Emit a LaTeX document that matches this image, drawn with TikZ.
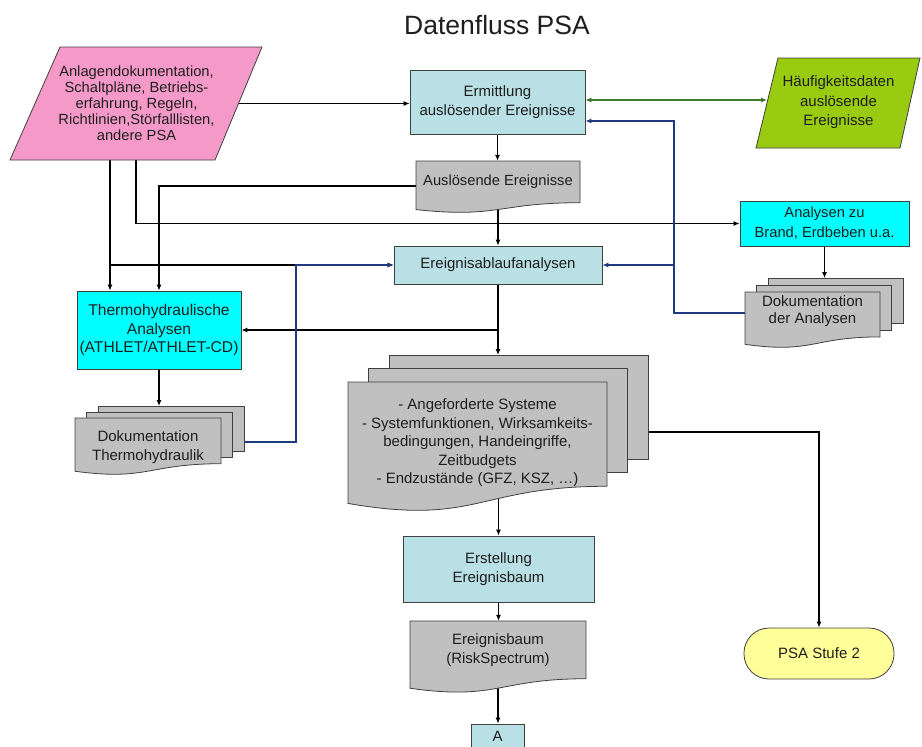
\documentclass[tikz,border=0pt]{standalone}
\usepackage{fontspec}
\setmainfont{Liberation Sans}
\usetikzlibrary{arrows.meta,calc}
\definecolor{pinkf}{HTML}{F59AC8}
\definecolor{lblue}{HTML}{B9E0E4}
\definecolor{cyanf}{HTML}{00FFFF}
\definecolor{grayf}{HTML}{C0C0C0}
\definecolor{greenf}{HTML}{99CC11}
\definecolor{yellowf}{HTML}{FFFF99}
\definecolor{arrgreen}{HTML}{3B7A2A}
\definecolor{navyl}{HTML}{1F3A7F}
\definecolor{edgec}{HTML}{404040}
\definecolor{txt}{HTML}{1E1E1E}
\pgfdeclarelayer{bg}
\pgfsetlayers{bg,main}
\tikzset{
  lbl/.style={align=center, text=txt, inner sep=0pt},
  bx/.style={draw=edgec, line width=0.8pt, align=center, text=txt, inner sep=0pt},
  docst/.style={draw=edgec, line width=0.8pt, fill=grayf},
  arr/.style={draw=black, line width=1.1pt, -{Latex[length=6pt,width=5pt]}},
  barr/.style={draw=navyl, line width=1.1pt, -{Latex[length=6pt,width=5pt]}},
  garr/.style={draw=arrgreen, line width=1.1pt, {Latex[length=6pt,width=5pt]}-{Latex[length=6pt,width=5pt]}},
  fa/.style={font=\fontsize{14.7}{16}\selectfont},
  fb/.style={font=\fontsize{15}{19}\selectfont},
  fc/.style={font=\fontsize{15}{18.5}\selectfont},
}
% document shape: x1, y1, width, height
\newcommand{\mydocshape}[4]{%
  \pgfmathsetmacro{\dsXa}{#1}\pgfmathsetmacro{\dsYa}{#2}%
  \pgfmathsetmacro{\dsXb}{#1+#3}\pgfmathsetmacro{\dsXm}{#1+0.5*#3}%
  \pgfmathsetmacro{\dsYr}{#2+0.802*#4}\pgfmathsetmacro{\dsYl}{#2+0.934*#4}%
  \pgfmathsetmacro{\dsYc}{#2+1.107*#4}%
  \draw[docst] (\dsXa,\dsYa) -- (\dsXb,\dsYa) -- (\dsXb,\dsYr)
    .. controls (\dsXm,\dsYr) and (\dsXm,\dsYc) .. (\dsXa,\dsYl) -- cycle;}
% multi document: x1, y1, width, height, dx, dy
\newcommand{\mymultidoc}[6]{%
  \pgfmathsetmacro{\mdH}{0.802*#4}%
  \draw[docst] ({#1+2*#5},{#2-2*#6}) rectangle ++(#3,\mdH);
  \draw[docst] ({#1+#5},{#2-#6}) rectangle ++(#3,\mdH);
  \mydocshape{#1}{#2}{#3}{#4}}
\begin{document}
\begin{tikzpicture}[x=1pt,y=-1pt]
\useasboundingbox (0,0) rectangle (922,747);

% title
\node[lbl, font=\fontsize{26.5}{30}\selectfont] (title) at (497,25) {Datenfluss PSA};

% parallelograms
\draw[draw=edgec, line width=0.8pt, fill=pinkf] (60,47) -- (262,47) -- (215,160) -- (10,160) -- cycle;
\node[lbl, fa] (pink) at (136.5,103.5) {Anlagendokumentation,\\Schaltpläne, Betriebs-\\erfahrung, Regeln,\\Richtlinien,Störfalllisten,\\andere PSA};
\draw[draw=edgec, line width=0.8pt, fill=greenf] (778,58) -- (920,58) -- (900,148) -- (756,148) -- cycle;
\node[lbl, font=\fontsize{15}{19.5}\selectfont] (haeuf) at (838.5,102.5) {Häufigkeitsdaten\\auslösende\\Ereignisse};

% boxes
\node[bx, fb, fill=lblue, minimum width=175, minimum height=64] (erm) at (497.5,102) {Ermittlung\\auslösender Ereignisse};
\node[bx, fb, fill=lblue, minimum width=208, minimum height=38] (ereig) at (498,265) {Ereignisablaufanalysen};
\node[bx, font=\fontsize{14.7}{20}\selectfont, fill=cyanf, minimum width=169, minimum height=45] (brand) at (824.5,223.5) {Analysen zu\\Brand, Erdbeben u.a.};
\node[bx, font=\fontsize{15.6}{18.5}\selectfont, fill=cyanf, minimum width=164, minimum height=78] (thermo) at (159,330) {Thermohydraulische\\Analysen\\(ATHLET/ATHLET-CD)};
\node[bx, fc, fill=lblue, minimum width=191, minimum height=66] (erst) at (498.5,569) {Erstellung\\Ereignisbaum};
\node[bx, font=\fontsize{15}{18}\selectfont, fill=lblue, minimum width=53, minimum height=24] (A) at (497.5,736) {A};
\node[bx, font=\fontsize{15}{18}\selectfont, fill=yellowf, rounded corners=25pt, minimum width=150, minimum height=51] (psa) at (819,653.5) {PSA Stufe 2};

% documents
\mydocshape{416}{161}{164}{52}
\node[lbl, fa, minimum width=164, minimum height=42] (ausl) at (498,182) {Auslösende Ereignisse};
\mydocshape{410}{621}{176}{72}
\node[lbl, font=\fontsize{15}{19}\selectfont, minimum width=176, minimum height=58] (eb) at (498,650) {Ereignisbaum\\(RiskSpectrum)};

% multi documents
\mymultidoc{745}{292}{135}{56}{11.5}{7}
\node[lbl, font=\fontsize{15}{17}\selectfont] (ana) at (812.5,311.5) {Dokumentation\\der Analysen};
\coordinate (anaTop) at (824.5,278);
\coordinate (anaL) at (745,313);

\mymultidoc{75}{418}{146}{57}{11.5}{6}
\node[lbl, font=\fontsize{15}{19}\selectfont] (thd) at (148,447.5) {Dokumentation\\Thermohydraulik};
\coordinate (thdTop) at (159,406);
\coordinate (thdR) at (244,442);

\mymultidoc{348}{382}{259}{130}{20.5}{13.5}
\node[lbl, fc, minimum width=259, minimum height=104] (big) at (477.5,434) {};
\node[lbl, fc] (bigtxt) at (477.5,443) {- Angeforderte Systeme\\- Systemfunktionen, Wirksamkeits-\\bedingungen, Handeingriffe,\\Zeitbudgets\\- Endzustände (GFZ, KSZ, \dots)};
\coordinate (bigTop) at (498,355);
\coordinate (bigR) at (648,432);

% helper coordinates
\coordinate (pinkR) at (238.7,103.5);
\coordinate (pb1) at (110,160);
\coordinate (pb2) at (136,160);
\coordinate (hL) at (767,100);
\coordinate (bv) at (674,121);
\coordinate (bv2) at (296,442);

\begin{pgfonlayer}{bg}
\draw[arr, line width=0.9pt] (pinkR) -- (pinkR -| erm.west);
\draw[garr] (erm.east |- hL) -- (hL);
\draw[arr] (erm.south) -- (erm.south |- ausl.north);
\draw[arr] (ausl.center) -- (ausl.center |- ereig.north);
\draw[arr] (pb1) -- (pb1 |- thermo.north);
\draw[arr] (pb1 |- ereig.west) -- (ereig.west);
\draw[arr] (pb2) |- (brand.west);
\draw[arr] ($(ausl.west)+(0,4)$) -| (thermo.north);
\draw[arr] (brand.south) -- (anaTop);
\draw[barr] (anaL) -| (bv) -- (bv -| erm.east);
\draw[barr] (bv |- ereig.east) -- (ereig.east);
\draw[arr] (ereig.south) -- (bigTop);
\draw[arr] (ereig.south |- thermo.east) -- (thermo.east);
\draw[arr] (thermo.south) -- (thdTop);
\draw[barr] (thdR) -- (bv2) -- (bv2 |- ereig.west) -- (ereig.west);
\draw[arr] (bigR) -| (psa.north);
\draw[arr] (erst.north |- big.center) -- (erst.north);
\draw[arr] (erst.south) -- (erst.south |- eb.north);
\draw[arr] (eb.center) -- (eb.center |- A.north);
\end{pgfonlayer}
\end{tikzpicture}
\end{document}
